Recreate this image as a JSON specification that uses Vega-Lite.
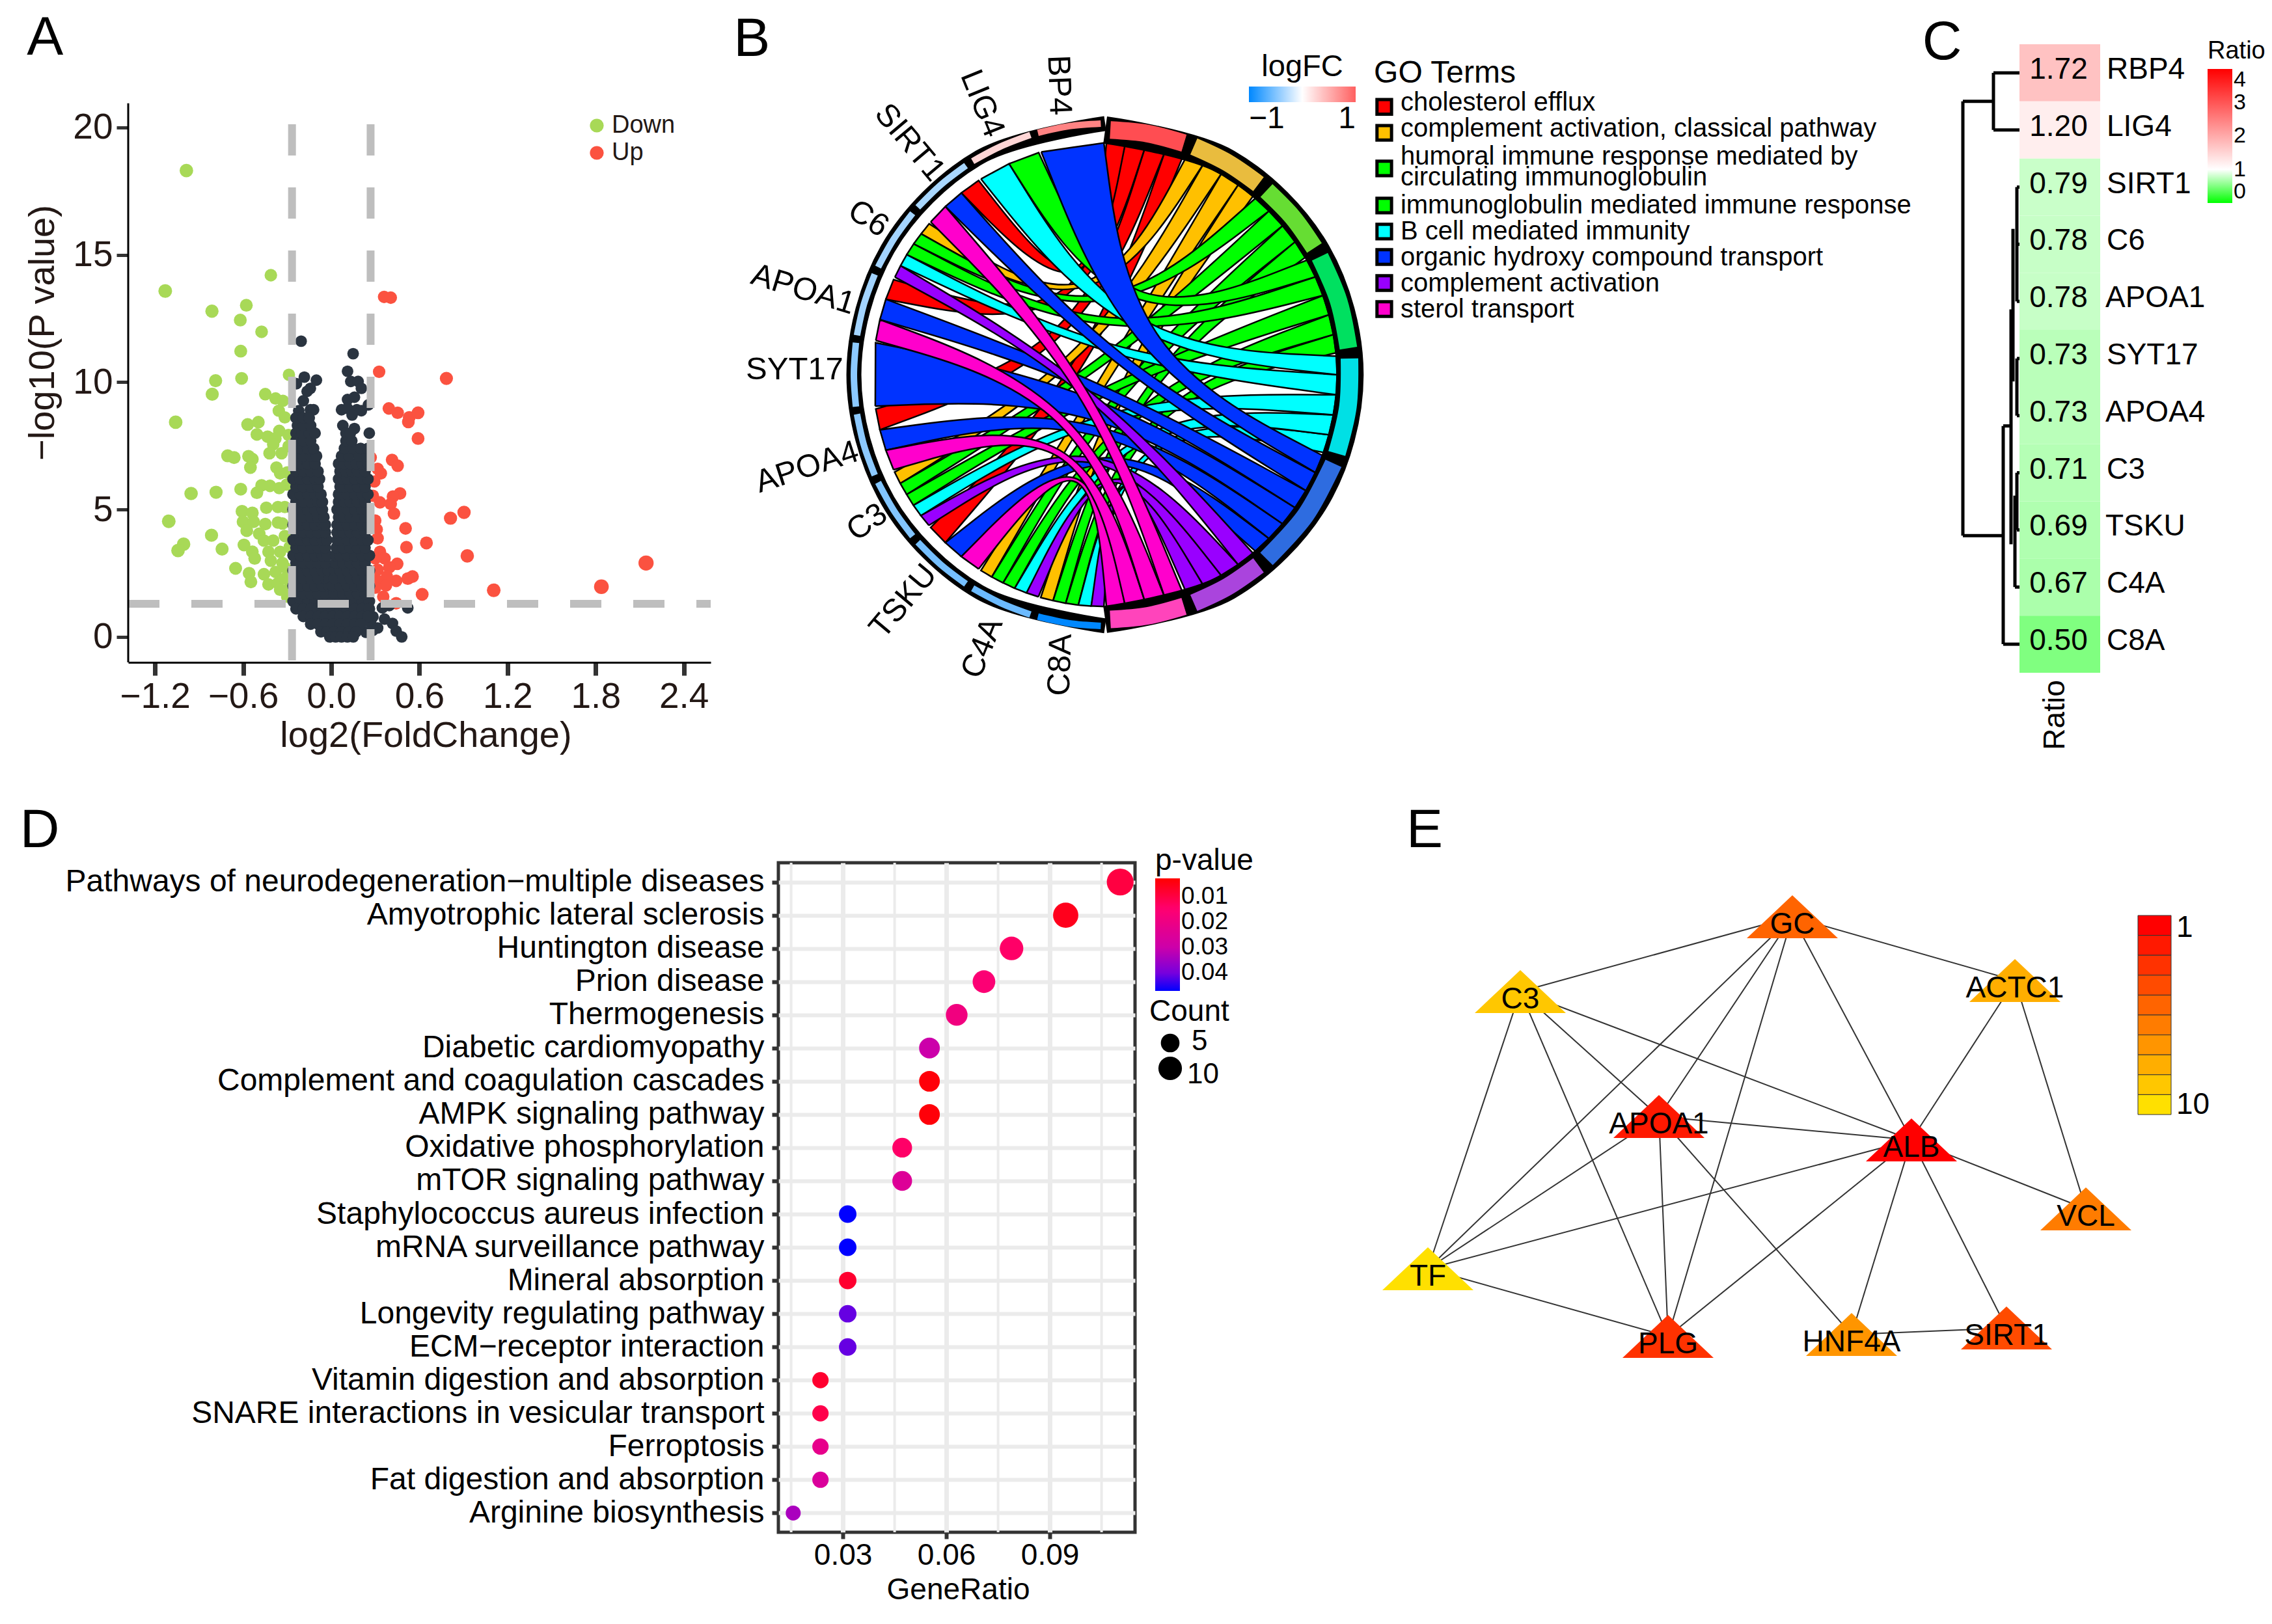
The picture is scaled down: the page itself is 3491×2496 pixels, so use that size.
{"$schema":"https://vega.github.io/schema/vega-lite/v6.json","padding":{"left":30,"top":16,"right":0,"bottom":0},"background":"white","align":{"row":"all","column":"none"},"bounds":"flush","columns":3,"spacing":{"row":229,"column":0},"config":{"view":{"stroke":null},"font":"Liberation Sans","text":{"font":"Liberation Sans"}},
"concat":[
{"width":895,"height":950,"layer":[
{"data":{"values":[{"x":-0.986,"y":18.31,"m":0.99,"g":"Down"},{"x":-0.411,"y":14.2,"m":0.41,"g":"Down"},{"x":-1.13,"y":13.58,"m":1.13,"g":"Down"},{"x":-0.812,"y":12.79,"m":0.81,"g":"Down"},{"x":-0.578,"y":13.02,"m":0.58,"g":"Down"},{"x":-0.619,"y":12.44,"m":0.62,"g":"Down"},{"x":-0.474,"y":11.98,"m":0.47,"g":"Down"},{"x":-0.616,"y":11.22,"m":0.62,"g":"Down"},{"x":-0.61,"y":10.15,"m":0.61,"g":"Down"},{"x":-0.787,"y":10.06,"m":0.79,"g":"Down"},{"x":-0.81,"y":9.53,"m":0.81,"g":"Down"},{"x":-0.288,"y":10.29,"m":0.29,"g":"Down"},{"x":-0.449,"y":9.53,"m":0.45,"g":"Down"},{"x":-0.379,"y":9.36,"m":0.38,"g":"Down"},{"x":-0.329,"y":9.27,"m":0.33,"g":"Down"},{"x":-0.357,"y":8.88,"m":0.36,"g":"Down"},{"x":-0.316,"y":8.62,"m":0.32,"g":"Down"},{"x":-1.059,"y":8.43,"m":1.06,"g":"Down"},{"x":-0.569,"y":8.34,"m":0.57,"g":"Down"},{"x":-0.496,"y":8.43,"m":0.5,"g":"Down"},{"x":-0.506,"y":7.95,"m":0.51,"g":"Down"},{"x":-0.354,"y":8.09,"m":0.35,"g":"Down"},{"x":-0.433,"y":7.86,"m":0.43,"g":"Down"},{"x":-0.291,"y":7.93,"m":0.29,"g":"Down"},{"x":-0.38,"y":7.79,"m":0.38,"g":"Down"},{"x":-0.395,"y":7.56,"m":0.4,"g":"Down"},{"x":-0.291,"y":7.48,"m":0.29,"g":"Down"},{"x":-0.705,"y":7.11,"m":0.71,"g":"Down"},{"x":-0.661,"y":7.04,"m":0.66,"g":"Down"},{"x":-0.563,"y":7.09,"m":0.56,"g":"Down"},{"x":-0.537,"y":6.98,"m":0.54,"g":"Down"},{"x":-0.55,"y":6.65,"m":0.55,"g":"Down"},{"x":-0.42,"y":7.21,"m":0.42,"g":"Down"},{"x":-0.338,"y":7.21,"m":0.34,"g":"Down"},{"x":-0.373,"y":6.65,"m":0.37,"g":"Down"},{"x":-0.348,"y":6.42,"m":0.35,"g":"Down"},{"x":-0.3,"y":6.46,"m":0.3,"g":"Down"},{"x":-0.474,"y":5.95,"m":0.47,"g":"Down"},{"x":-0.417,"y":5.93,"m":0.42,"g":"Down"},{"x":-0.303,"y":5.98,"m":0.3,"g":"Down"},{"x":-0.354,"y":5.84,"m":0.35,"g":"Down"},{"x":-0.506,"y":5.66,"m":0.51,"g":"Down"},{"x":-0.616,"y":5.8,"m":0.62,"g":"Down"},{"x":-0.784,"y":5.68,"m":0.78,"g":"Down"},{"x":-0.954,"y":5.63,"m":0.95,"g":"Down"},{"x":-1.106,"y":4.54,"m":1.11,"g":"Down"},{"x":-1.005,"y":3.64,"m":1.0,"g":"Down"},{"x":-1.043,"y":3.39,"m":1.04,"g":"Down"},{"x":-0.815,"y":3.99,"m":0.82,"g":"Down"},{"x":-0.743,"y":3.45,"m":0.74,"g":"Down"},{"x":-0.607,"y":4.93,"m":0.61,"g":"Down"},{"x":-0.537,"y":4.87,"m":0.54,"g":"Down"},{"x":-0.6,"y":4.52,"m":0.6,"g":"Down"},{"x":-0.528,"y":4.52,"m":0.53,"g":"Down"},{"x":-0.575,"y":4.17,"m":0.58,"g":"Down"},{"x":-0.442,"y":5.07,"m":0.44,"g":"Down"},{"x":-0.363,"y":5.1,"m":0.36,"g":"Down"},{"x":-0.316,"y":5.1,"m":0.32,"g":"Down"},{"x":-0.449,"y":4.43,"m":0.45,"g":"Down"},{"x":-0.363,"y":4.49,"m":0.36,"g":"Down"},{"x":-0.332,"y":4.45,"m":0.33,"g":"Down"},{"x":-0.49,"y":4.05,"m":0.49,"g":"Down"},{"x":-0.594,"y":3.61,"m":0.59,"g":"Down"},{"x":-0.458,"y":3.78,"m":0.46,"g":"Down"},{"x":-0.395,"y":3.78,"m":0.4,"g":"Down"},{"x":-0.316,"y":3.96,"m":0.32,"g":"Down"},{"x":-0.537,"y":3.34,"m":0.54,"g":"Down"},{"x":-0.427,"y":3.34,"m":0.43,"g":"Down"},{"x":-0.521,"y":3.08,"m":0.52,"g":"Down"},{"x":-0.411,"y":2.99,"m":0.41,"g":"Down"},{"x":-0.348,"y":3.34,"m":0.35,"g":"Down"},{"x":-0.284,"y":3.52,"m":0.28,"g":"Down"},{"x":-0.651,"y":2.69,"m":0.65,"g":"Down"},{"x":-0.559,"y":2.5,"m":0.56,"g":"Down"},{"x":-0.458,"y":2.46,"m":0.46,"g":"Down"},{"x":-0.379,"y":2.55,"m":0.38,"g":"Down"},{"x":-0.316,"y":2.73,"m":0.32,"g":"Down"},{"x":-0.547,"y":2.16,"m":0.55,"g":"Down"},{"x":-0.427,"y":2.06,"m":0.43,"g":"Down"},{"x":-0.363,"y":2.11,"m":0.36,"g":"Down"},{"x":-0.316,"y":2.29,"m":0.32,"g":"Down"},{"x":-0.284,"y":1.93,"m":0.28,"g":"Down"},{"x":-0.348,"y":1.85,"m":0.35,"g":"Down"},{"x":-0.3,"y":1.58,"m":0.3,"g":"Down"},{"x":-0.332,"y":2.9,"m":0.33,"g":"Down"},{"x":0.36,"y":13.35,"m":0.36,"g":"Up"},{"x":0.405,"y":13.32,"m":0.41,"g":"Up"},{"x":0.326,"y":10.41,"m":0.33,"g":"Up"},{"x":0.784,"y":10.15,"m":0.78,"g":"Up"},{"x":0.392,"y":8.97,"m":0.39,"g":"Up"},{"x":0.452,"y":8.8,"m":0.45,"g":"Up"},{"x":0.531,"y":8.62,"m":0.53,"g":"Up"},{"x":0.591,"y":8.8,"m":0.59,"g":"Up"},{"x":0.525,"y":8.44,"m":0.53,"g":"Up"},{"x":0.591,"y":7.79,"m":0.59,"g":"Up"},{"x":0.414,"y":6.95,"m":0.41,"g":"Up"},{"x":0.452,"y":6.72,"m":0.45,"g":"Up"},{"x":0.269,"y":7.04,"m":0.27,"g":"Up"},{"x":0.316,"y":6.6,"m":0.32,"g":"Up"},{"x":0.338,"y":6.42,"m":0.34,"g":"Up"},{"x":0.294,"y":6.1,"m":0.29,"g":"Up"},{"x":0.468,"y":5.63,"m":0.47,"g":"Up"},{"x":0.42,"y":5.51,"m":0.42,"g":"Up"},{"x":0.284,"y":5.54,"m":0.28,"g":"Up"},{"x":0.332,"y":5.28,"m":0.33,"g":"Up"},{"x":0.405,"y":5.22,"m":0.41,"g":"Up"},{"x":0.427,"y":4.84,"m":0.43,"g":"Up"},{"x":0.904,"y":4.89,"m":0.9,"g":"Up"},{"x":0.812,"y":4.66,"m":0.81,"g":"Up"},{"x":0.3,"y":4.57,"m":0.3,"g":"Up"},{"x":0.506,"y":4.26,"m":0.51,"g":"Up"},{"x":0.31,"y":4.22,"m":0.31,"g":"Up"},{"x":0.316,"y":3.87,"m":0.32,"g":"Up"},{"x":0.648,"y":3.69,"m":0.65,"g":"Up"},{"x":0.512,"y":3.52,"m":0.51,"g":"Up"},{"x":0.332,"y":3.34,"m":0.33,"g":"Up"},{"x":0.926,"y":3.18,"m":0.93,"g":"Up"},{"x":0.363,"y":3.08,"m":0.36,"g":"Up"},{"x":0.3,"y":3.08,"m":0.3,"g":"Up"},{"x":0.449,"y":2.87,"m":0.45,"g":"Up"},{"x":0.395,"y":2.73,"m":0.4,"g":"Up"},{"x":0.316,"y":2.64,"m":0.32,"g":"Up"},{"x":0.553,"y":2.37,"m":0.55,"g":"Up"},{"x":0.521,"y":2.29,"m":0.52,"g":"Up"},{"x":0.442,"y":2.2,"m":0.44,"g":"Up"},{"x":0.379,"y":2.37,"m":0.38,"g":"Up"},{"x":0.316,"y":2.2,"m":0.32,"g":"Up"},{"x":0.373,"y":2.02,"m":0.37,"g":"Up"},{"x":0.3,"y":1.93,"m":0.3,"g":"Up"},{"x":0.619,"y":1.67,"m":0.62,"g":"Up"},{"x":0.354,"y":1.58,"m":0.35,"g":"Up"},{"x":1.106,"y":1.83,"m":1.11,"g":"Up"},{"x":1.839,"y":1.97,"m":1.84,"g":"Up"},{"x":2.143,"y":2.9,"m":2.14,"g":"Up"},{"x":0.442,"y":1.32,"m":0.44,"g":"Up"},{"x":0.284,"y":2.55,"m":0.28,"g":"Up"}]},"mark":{"type":"point","filled":true,"opacity":1},"encoding":{"x":{"field":"x","type":"quantitative","scale":{"domain":[-1.382,2.583],"nice":false},"axis":{"values":[-1.2,-0.6,0,0.6,1.2,1.8,2.4],"format":".1f","title":"log2(FoldChange)","labelFontSize":55,"labelColor":"#231815","titleColor":"#231815","titleFontSize":56,"titleFontWeight":"normal","grid":false,"tickSize":20,"tickWidth":7,"tickColor":"#333333","domainColor":"#000000","domainWidth":3,"labelPadding":6,"titleX":457,"titleY":112,"titleBaseline":"middle","labelOverlap":false}},"y":{"field":"y","type":"quantitative","scale":{"domain":[-1,23.27],"nice":false},"axis":{"values":[0,5,10,15,20],"title":"−log10(P value)","labelFontSize":55,"labelColor":"#231815","titleColor":"#231815","titleFontSize":56,"titleFontWeight":"normal","grid":false,"domain":false,"tickSize":18,"tickWidth":5,"tickColor":"#333333","labelPadding":6,"titleX":-132,"titleY":443,"titleBaseline":"middle"}},"color":{"field":"g","type":"nominal","scale":{"domain":["Down","Up"],"range":["#A8D957","#FB5240"]},"legend":{"title":null,"orient":"none","legendX":701,"legendY":106,"labelFontSize":38,"symbolSize":450,"rowPadding":4,"labelColor":"#231815"}},"size":{"field":"m","type":"quantitative","scale":{"domain":[0.27,2.15],"range":[360,1700]},"legend":null}}},
{"data":{"values":[{"x":-0.205,"y":11.61},{"x":0.149,"y":11.12},{"x":0.111,"y":10.43},{"x":-0.183,"y":10.2},{"x":-0.101,"y":10.08},{"x":-0.142,"y":9.76},{"x":-0.164,"y":9.64},{"x":0.133,"y":10.03},{"x":0.183,"y":10.03},{"x":-0.237,"y":9.94},{"x":-0.19,"y":9.27},{"x":0.205,"y":9.76},{"x":0.111,"y":9.32},{"x":0.158,"y":9.41},{"x":0.253,"y":9.11},{"x":0.07,"y":8.92},{"x":0.111,"y":8.97},{"x":0.174,"y":8.92},{"x":0.205,"y":8.88},{"x":0.142,"y":8.71},{"x":0.079,"y":8.3},{"x":0.158,"y":8.18},{"x":0.259,"y":8.0},{"x":-0.142,"y":8.92},{"x":-0.221,"y":8.88},{"x":-0.12,"y":8.92},{"x":0.348,"y":1.14},{"x":0.284,"y":0.79},{"x":0.363,"y":0.7},{"x":0.417,"y":0.53},{"x":0.442,"y":0.23},{"x":0.48,"y":0.0},{"x":0.269,"y":0.53},{"x":0.316,"y":0.35},{"x":0.521,"y":1.14},{"x":0.284,"y":0.26},{"x":0.237,"y":0.18},{"x":0.395,"y":1.23},
{"x":-0.26,"y":1.4},{"x":-0.21,"y":1.4},{"x":-0.16,"y":1.4},{"x":-0.11,"y":1.4},{"x":-0.06,"y":1.4},{"x":-0.02,"y":1.4},{"x":-0.24,"y":1.7},{"x":-0.19,"y":1.7},{"x":-0.14,"y":1.7},{"x":-0.09,"y":1.7},{"x":-0.04,"y":1.7},{"x":-0.26,"y":2.0},{"x":-0.21,"y":2.0},{"x":-0.16,"y":2.0},{"x":-0.11,"y":2.0},{"x":-0.06,"y":2.0},{"x":-0.015,"y":2.0},{"x":-0.24,"y":2.3},{"x":-0.19,"y":2.3},{"x":-0.14,"y":2.3},{"x":-0.09,"y":2.3},{"x":-0.04,"y":2.3},{"x":-0.015,"y":2.3},{"x":-0.26,"y":2.6},{"x":-0.21,"y":2.6},{"x":-0.16,"y":2.6},{"x":-0.11,"y":2.6},{"x":-0.06,"y":2.6},{"x":-0.02,"y":2.6},{"x":-0.24,"y":2.9},{"x":-0.19,"y":2.9},{"x":-0.14,"y":2.9},{"x":-0.09,"y":2.9},{"x":-0.04,"y":2.9},{"x":-0.26,"y":3.2},{"x":-0.21,"y":3.2},{"x":-0.16,"y":3.2},{"x":-0.11,"y":3.2},{"x":-0.06,"y":3.2},{"x":-0.025,"y":3.2},{"x":-0.24,"y":3.5},{"x":-0.19,"y":3.5},{"x":-0.14,"y":3.5},{"x":-0.09,"y":3.5},{"x":-0.04,"y":3.5},{"x":-0.26,"y":3.8},{"x":-0.21,"y":3.8},{"x":-0.16,"y":3.8},{"x":-0.11,"y":3.8},{"x":-0.06,"y":3.8},{"x":-0.03,"y":3.8},{"x":-0.24,"y":4.1},{"x":-0.19,"y":4.1},{"x":-0.14,"y":4.1},{"x":-0.09,"y":4.1},{"x":-0.04,"y":4.1},{"x":-0.26,"y":4.4},{"x":-0.21,"y":4.4},{"x":-0.16,"y":4.4},{"x":-0.11,"y":4.4},{"x":-0.06,"y":4.4},{"x":-0.04,"y":4.4},{"x":-0.24,"y":4.7},{"x":-0.19,"y":4.7},{"x":-0.14,"y":4.7},{"x":-0.09,"y":4.7},{"x":-0.05,"y":4.7},{"x":-0.26,"y":5.0},{"x":-0.21,"y":5.0},{"x":-0.16,"y":5.0},{"x":-0.11,"y":5.0},{"x":-0.06,"y":5.0},{"x":-0.24,"y":5.3},{"x":-0.19,"y":5.3},{"x":-0.14,"y":5.3},{"x":-0.09,"y":5.3},{"x":-0.06,"y":5.3},{"x":-0.26,"y":5.6},{"x":-0.21,"y":5.6},{"x":-0.16,"y":5.6},{"x":-0.11,"y":5.6},{"x":-0.07,"y":5.6},{"x":-0.24,"y":5.9},{"x":-0.19,"y":5.9},{"x":-0.14,"y":5.9},{"x":-0.09,"y":5.9},{"x":-0.26,"y":6.2},{"x":-0.21,"y":6.2},{"x":-0.16,"y":6.2},{"x":-0.11,"y":6.2},{"x":-0.08,"y":6.2},{"x":-0.24,"y":6.5},{"x":-0.19,"y":6.5},{"x":-0.14,"y":6.5},{"x":-0.09,"y":6.5},{"x":-0.25,"y":6.8},{"x":-0.21,"y":6.8},{"x":-0.16,"y":6.8},{"x":-0.11,"y":6.8},{"x":-0.24,"y":7.1},{"x":-0.19,"y":7.1},{"x":-0.14,"y":7.1},{"x":-0.1,"y":7.1},{"x":-0.25,"y":7.4},{"x":-0.21,"y":7.4},{"x":-0.16,"y":7.4},{"x":-0.12,"y":7.4},{"x":-0.24,"y":7.7},{"x":-0.19,"y":7.7},{"x":-0.14,"y":7.7},{"x":-0.24,"y":8.0},{"x":-0.2,"y":8.0},{"x":-0.15,"y":8.0},{"x":-0.11,"y":8.0},{"x":-0.23,"y":8.3},{"x":-0.19,"y":8.3},{"x":-0.14,"y":8.3},{"x":-0.24,"y":8.6},{"x":-0.19,"y":8.6},{"x":-0.15,"y":8.6},
{"x":0.01,"y":1.4},{"x":0.06,"y":1.4},{"x":0.11,"y":1.4},{"x":0.16,"y":1.4},{"x":0.21,"y":1.4},{"x":0.26,"y":1.4},{"x":0.02,"y":1.7},{"x":0.08,"y":1.7},{"x":0.13,"y":1.7},{"x":0.18,"y":1.7},{"x":0.23,"y":1.7},{"x":0.01,"y":2.0},{"x":0.06,"y":2.0},{"x":0.11,"y":2.0},{"x":0.16,"y":2.0},{"x":0.21,"y":2.0},{"x":0.26,"y":2.0},{"x":0.02,"y":2.3},{"x":0.08,"y":2.3},{"x":0.13,"y":2.3},{"x":0.18,"y":2.3},{"x":0.23,"y":2.3},{"x":0.025,"y":2.6},{"x":0.06,"y":2.6},{"x":0.11,"y":2.6},{"x":0.16,"y":2.6},{"x":0.21,"y":2.6},{"x":0.26,"y":2.6},{"x":0.03,"y":2.9},{"x":0.08,"y":2.9},{"x":0.13,"y":2.9},{"x":0.18,"y":2.9},{"x":0.23,"y":2.9},{"x":0.03,"y":3.2},{"x":0.06,"y":3.2},{"x":0.11,"y":3.2},{"x":0.16,"y":3.2},{"x":0.21,"y":3.2},{"x":0.26,"y":3.2},{"x":0.035,"y":3.5},{"x":0.08,"y":3.5},{"x":0.13,"y":3.5},{"x":0.18,"y":3.5},{"x":0.23,"y":3.5},{"x":0.04,"y":3.8},{"x":0.06,"y":3.8},{"x":0.11,"y":3.8},{"x":0.16,"y":3.8},{"x":0.21,"y":3.8},{"x":0.25,"y":3.8},{"x":0.04,"y":4.1},{"x":0.08,"y":4.1},{"x":0.13,"y":4.1},{"x":0.18,"y":4.1},{"x":0.23,"y":4.1},{"x":0.04,"y":4.4},{"x":0.07,"y":4.4},{"x":0.11,"y":4.4},{"x":0.16,"y":4.4},{"x":0.21,"y":4.4},{"x":0.25,"y":4.4},{"x":0.05,"y":4.7},{"x":0.09,"y":4.7},{"x":0.13,"y":4.7},{"x":0.18,"y":4.7},{"x":0.23,"y":4.7},{"x":0.04,"y":5.0},{"x":0.07,"y":5.0},{"x":0.11,"y":5.0},{"x":0.16,"y":5.0},{"x":0.21,"y":5.0},{"x":0.24,"y":5.0},{"x":0.05,"y":5.3},{"x":0.09,"y":5.3},{"x":0.13,"y":5.3},{"x":0.18,"y":5.3},{"x":0.23,"y":5.3},{"x":0.05,"y":5.6},{"x":0.07,"y":5.6},{"x":0.11,"y":5.6},{"x":0.16,"y":5.6},{"x":0.21,"y":5.6},{"x":0.25,"y":5.6},{"x":0.06,"y":5.9},{"x":0.09,"y":5.9},{"x":0.13,"y":5.9},{"x":0.18,"y":5.9},{"x":0.23,"y":5.9},{"x":0.05,"y":6.2},{"x":0.08,"y":6.2},{"x":0.11,"y":6.2},{"x":0.16,"y":6.2},{"x":0.21,"y":6.2},{"x":0.25,"y":6.2},{"x":0.06,"y":6.5},{"x":0.1,"y":6.5},{"x":0.14,"y":6.5},{"x":0.18,"y":6.5},{"x":0.23,"y":6.5},{"x":0.05,"y":6.8},{"x":0.09,"y":6.8},{"x":0.13,"y":6.8},{"x":0.17,"y":6.8},{"x":0.21,"y":6.8},{"x":0.25,"y":6.8},{"x":0.07,"y":7.1},{"x":0.12,"y":7.1},{"x":0.19,"y":7.1},{"x":0.24,"y":7.1},{"x":0.09,"y":7.4},{"x":0.15,"y":7.4},{"x":0.2,"y":7.4},{"x":0.25,"y":7.4},{"x":0.1,"y":7.7},{"x":0.14,"y":7.7},{"x":0.1,"y":8.0},{"x":0.13,"y":8.0},
{"x":-0.24,"y":1.1},{"x":-0.19,"y":1.1},{"x":-0.14,"y":1.1},{"x":-0.09,"y":1.1},{"x":-0.04,"y":1.1},{"x":0.01,"y":1.1},{"x":0.06,"y":1.1},{"x":0.11,"y":1.1},{"x":0.16,"y":1.1},{"x":0.21,"y":1.1},{"x":0.26,"y":1.1},{"x":-0.19,"y":0.8},{"x":-0.14,"y":0.8},{"x":-0.09,"y":0.8},{"x":-0.04,"y":0.8},{"x":0.01,"y":0.8},{"x":0.06,"y":0.8},{"x":0.11,"y":0.8},{"x":0.16,"y":0.8},{"x":0.21,"y":0.8},{"x":0.25,"y":0.8},{"x":-0.14,"y":0.5},{"x":-0.09,"y":0.5},{"x":-0.04,"y":0.5},{"x":0.01,"y":0.5},{"x":0.06,"y":0.5},{"x":0.11,"y":0.5},{"x":0.16,"y":0.5},{"x":0.2,"y":0.5},{"x":-0.07,"y":0.2},{"x":-0.03,"y":0.2},{"x":0.02,"y":0.2},{"x":0.07,"y":0.2},{"x":0.12,"y":0.2},{"x":0.17,"y":0.2},{"x":-0.01,"y":0.0},{"x":0.03,"y":0.0},{"x":0.07,"y":0.0},{"x":0.11,"y":0.0},{"x":0.15,"y":0.0}]},"mark":{"type":"point","filled":true,"opacity":1,"color":"#2A3440","size":320},"encoding":{"x":{"field":"x","type":"quantitative"},"y":{"field":"y","type":"quantitative"}}},
{"data":{"values":[{"x":-0.267,"x2":-0.267,"y":20.13,"y2":-1},{"x":0.268,"x2":0.268,"y":20.13,"y2":-1},{"x":-1.382,"x2":2.583,"y":1.3,"y2":1.3}]},"mark":{"type":"rule","color":"#BEBEBE","strokeWidth":12,"strokeDash":[48,49]},"encoding":{"x":{"field":"x","type":"quantitative"},"x2":{"field":"x2"},"y":{"field":"y","type":"quantitative"},"y2":{"field":"y2"}}},
{"data":{"values":[{"x":-1.382,"y":-1,"y2":20.95}]},"mark":{"type":"rule","color":"#000000","strokeWidth":3},"encoding":{"x":{"field":"x","type":"quantitative"},"y":{"field":"y","type":"quantitative"},"y2":{"field":"y2"}}},
{"data":{"values":[{"x":-1.948,"y":23.5,"l":"A"}]},"mark":{"type":"text","fontSize":84,"color":"#000000"},"encoding":{"x":{"field":"x","type":"quantitative"},"y":{"field":"y","type":"quantitative"},"text":{"field":"l"}}}
]},
{"width":1755,"height":966,"layer":[
{"data":{"values":[
{"g":"C8A","t":"cla","x":-0.202,"y":-0.877},{"g":"C8A","t":"cla","x":-0.202,"y":-0.877},{"g":"C8A","t":"cla","x":-0.202,"y":-0.877},{"g":"C8A","t":"cla","x":0.047,"y":-0.023},{"g":"C8A","t":"cla","x":0.574,"y":0.693},{"g":"C8A","t":"cla","x":0.574,"y":0.693},{"g":"C8A","t":"cla","x":0.574,"y":0.693},{"g":"C8A","t":"cla","x":0.516,"y":0.737},{"g":"C8A","t":"cla","x":0.516,"y":0.737},{"g":"C8A","t":"cla","x":0.516,"y":0.737},{"g":"C8A","t":"cla","x":0.033,"y":-0.016},{"g":"C8A","t":"cla","x":-0.25,"y":-0.865},{"g":"C8A","t":"cla","x":-0.25,"y":-0.865},{"g":"C8A","t":"cla","x":-0.25,"y":-0.865},{"g":"C8A","t":"cla","x":-0.202,"y":-0.877},
{"g":"C8A","t":"hum","x":-0.153,"y":-0.887},{"g":"C8A","t":"hum","x":-0.153,"y":-0.887},{"g":"C8A","t":"hum","x":-0.153,"y":-0.887},{"g":"C8A","t":"hum","x":0.078,"y":-0.054},{"g":"C8A","t":"hum","x":0.776,"y":0.455},{"g":"C8A","t":"hum","x":0.776,"y":0.455},{"g":"C8A","t":"hum","x":0.776,"y":0.455},{"g":"C8A","t":"hum","x":0.737,"y":0.516},{"g":"C8A","t":"hum","x":0.737,"y":0.516},{"g":"C8A","t":"hum","x":0.737,"y":0.516},{"g":"C8A","t":"hum","x":0.067,"y":-0.045},{"g":"C8A","t":"hum","x":-0.202,"y":-0.877},{"g":"C8A","t":"hum","x":-0.202,"y":-0.877},{"g":"C8A","t":"hum","x":-0.202,"y":-0.877},{"g":"C8A","t":"hum","x":-0.153,"y":-0.887},
{"g":"C8A","t":"igm","x":-0.104,"y":-0.894},{"g":"C8A","t":"igm","x":-0.104,"y":-0.894},{"g":"C8A","t":"igm","x":-0.104,"y":-0.894},{"g":"C8A","t":"igm","x":0.099,"y":-0.101},{"g":"C8A","t":"igm","x":0.896,"y":0.085},{"g":"C8A","t":"igm","x":0.896,"y":0.085},{"g":"C8A","t":"igm","x":0.896,"y":0.085},{"g":"C8A","t":"igm","x":0.886,"y":0.156},{"g":"C8A","t":"igm","x":0.886,"y":0.156},{"g":"C8A","t":"igm","x":0.886,"y":0.156},{"g":"C8A","t":"igm","x":0.092,"y":-0.091},{"g":"C8A","t":"igm","x":-0.153,"y":-0.887},{"g":"C8A","t":"igm","x":-0.153,"y":-0.887},{"g":"C8A","t":"igm","x":-0.153,"y":-0.887},{"g":"C8A","t":"igm","x":-0.104,"y":-0.894},
{"g":"C8A","t":"bce","x":-0.054,"y":-0.898},{"g":"C8A","t":"bce","x":-0.054,"y":-0.898},{"g":"C8A","t":"bce","x":-0.054,"y":-0.898},{"g":"C8A","t":"bce","x":0.099,"y":-0.15},{"g":"C8A","t":"bce","x":0.848,"y":-0.302},{"g":"C8A","t":"bce","x":0.848,"y":-0.302},{"g":"C8A","t":"bce","x":0.848,"y":-0.302},{"g":"C8A","t":"bce","x":0.869,"y":-0.233},{"g":"C8A","t":"bce","x":0.869,"y":-0.233},{"g":"C8A","t":"bce","x":0.869,"y":-0.233},{"g":"C8A","t":"bce","x":0.096,"y":-0.141},{"g":"C8A","t":"bce","x":-0.104,"y":-0.894},{"g":"C8A","t":"bce","x":-0.104,"y":-0.894},{"g":"C8A","t":"bce","x":-0.104,"y":-0.894},{"g":"C8A","t":"bce","x":-0.054,"y":-0.898},
{"g":"C8A","t":"act","x":-0.005,"y":-0.9},{"g":"C8A","t":"act","x":-0.005,"y":-0.9},{"g":"C8A","t":"act","x":-0.005,"y":-0.9},{"g":"C8A","t":"act","x":0.039,"y":-0.218},{"g":"C8A","t":"act","x":0.314,"y":-0.844},{"g":"C8A","t":"act","x":0.314,"y":-0.844},{"g":"C8A","t":"act","x":0.314,"y":-0.844},{"g":"C8A","t":"act","x":0.38,"y":-0.816},{"g":"C8A","t":"act","x":0.38,"y":-0.816},{"g":"C8A","t":"act","x":0.38,"y":-0.816},{"g":"C8A","t":"act","x":0.041,"y":-0.214},{"g":"C8A","t":"act","x":-0.054,"y":-0.898},{"g":"C8A","t":"act","x":-0.054,"y":-0.898},{"g":"C8A","t":"act","x":-0.054,"y":-0.898},{"g":"C8A","t":"act","x":-0.005,"y":-0.9},
{"g":"C4A","t":"cla","x":-0.44,"y":-0.785},{"g":"C4A","t":"cla","x":-0.44,"y":-0.785},{"g":"C4A","t":"cla","x":-0.44,"y":-0.785},{"g":"C4A","t":"cla","x":0.01,"y":-0.006},{"g":"C4A","t":"cla","x":0.516,"y":0.737},{"g":"C4A","t":"cla","x":0.516,"y":0.737},{"g":"C4A","t":"cla","x":0.516,"y":0.737},{"g":"C4A","t":"cla","x":0.45,"y":0.779},{"g":"C4A","t":"cla","x":0.45,"y":0.779},{"g":"C4A","t":"cla","x":0.45,"y":0.779},{"g":"C4A","t":"cla","x":-0.004,"y":0.002},{"g":"C4A","t":"cla","x":-0.482,"y":-0.76},{"g":"C4A","t":"cla","x":-0.482,"y":-0.76},{"g":"C4A","t":"cla","x":-0.482,"y":-0.76},{"g":"C4A","t":"cla","x":-0.44,"y":-0.785},
{"g":"C4A","t":"hum","x":-0.396,"y":-0.808},{"g":"C4A","t":"hum","x":-0.396,"y":-0.808},{"g":"C4A","t":"hum","x":-0.396,"y":-0.808},{"g":"C4A","t":"hum","x":0.043,"y":-0.037},{"g":"C4A","t":"hum","x":0.737,"y":0.516},{"g":"C4A","t":"hum","x":0.737,"y":0.516},{"g":"C4A","t":"hum","x":0.737,"y":0.516},{"g":"C4A","t":"hum","x":0.689,"y":0.579},{"g":"C4A","t":"hum","x":0.689,"y":0.579},{"g":"C4A","t":"hum","x":0.689,"y":0.579},{"g":"C4A","t":"hum","x":0.031,"y":-0.026},{"g":"C4A","t":"hum","x":-0.44,"y":-0.785},{"g":"C4A","t":"hum","x":-0.44,"y":-0.785},{"g":"C4A","t":"hum","x":-0.44,"y":-0.785},{"g":"C4A","t":"hum","x":-0.396,"y":-0.808},
{"g":"C4A","t":"igm","x":-0.351,"y":-0.829},{"g":"C4A","t":"igm","x":-0.351,"y":-0.829},{"g":"C4A","t":"igm","x":-0.351,"y":-0.829},{"g":"C4A","t":"igm","x":0.067,"y":-0.084},{"g":"C4A","t":"igm","x":0.886,"y":0.156},{"g":"C4A","t":"igm","x":0.886,"y":0.156},{"g":"C4A","t":"igm","x":0.886,"y":0.156},{"g":"C4A","t":"igm","x":0.869,"y":0.233},{"g":"C4A","t":"igm","x":0.869,"y":0.233},{"g":"C4A","t":"igm","x":0.869,"y":0.233},{"g":"C4A","t":"igm","x":0.059,"y":-0.072},{"g":"C4A","t":"igm","x":-0.396,"y":-0.808},{"g":"C4A","t":"igm","x":-0.396,"y":-0.808},{"g":"C4A","t":"igm","x":-0.396,"y":-0.808},{"g":"C4A","t":"igm","x":-0.351,"y":-0.829},
{"g":"C4A","t":"bce","x":-0.305,"y":-0.847},{"g":"C4A","t":"bce","x":-0.305,"y":-0.847},{"g":"C4A","t":"bce","x":-0.305,"y":-0.847},{"g":"C4A","t":"bce","x":0.071,"y":-0.135},{"g":"C4A","t":"bce","x":0.869,"y":-0.233},{"g":"C4A","t":"bce","x":0.869,"y":-0.233},{"g":"C4A","t":"bce","x":0.869,"y":-0.233},{"g":"C4A","t":"bce","x":0.886,"y":-0.156},{"g":"C4A","t":"bce","x":0.886,"y":-0.156},{"g":"C4A","t":"bce","x":0.886,"y":-0.156},{"g":"C4A","t":"bce","x":0.067,"y":-0.123},{"g":"C4A","t":"bce","x":-0.351,"y":-0.829},{"g":"C4A","t":"bce","x":-0.351,"y":-0.829},{"g":"C4A","t":"bce","x":-0.351,"y":-0.829},{"g":"C4A","t":"bce","x":-0.305,"y":-0.847},
{"g":"C4A","t":"act","x":-0.259,"y":-0.862},{"g":"C4A","t":"act","x":-0.259,"y":-0.862},{"g":"C4A","t":"act","x":-0.259,"y":-0.862},{"g":"C4A","t":"act","x":0.015,"y":-0.21},{"g":"C4A","t":"act","x":0.38,"y":-0.816},{"g":"C4A","t":"act","x":0.38,"y":-0.816},{"g":"C4A","t":"act","x":0.38,"y":-0.816},{"g":"C4A","t":"act","x":0.45,"y":-0.779},{"g":"C4A","t":"act","x":0.45,"y":-0.779},{"g":"C4A","t":"act","x":0.45,"y":-0.779},{"g":"C4A","t":"act","x":0.018,"y":-0.203},{"g":"C4A","t":"act","x":-0.305,"y":-0.847},{"g":"C4A","t":"act","x":-0.305,"y":-0.847},{"g":"C4A","t":"act","x":-0.305,"y":-0.847},{"g":"C4A","t":"act","x":-0.259,"y":-0.862},
{"g":"TSKU","t":"eff","x":-0.62,"y":-0.652},{"g":"TSKU","t":"eff","x":-0.62,"y":-0.652},{"g":"TSKU","t":"eff","x":-0.62,"y":-0.652},{"g":"TSKU","t":"eff","x":-0.04,"y":0.025},{"g":"TSKU","t":"eff","x":0.302,"y":0.848},{"g":"TSKU","t":"eff","x":0.302,"y":0.848},{"g":"TSKU","t":"eff","x":0.302,"y":0.848},{"g":"TSKU","t":"eff","x":0.233,"y":0.869},{"g":"TSKU","t":"eff","x":0.233,"y":0.869},{"g":"TSKU","t":"eff","x":0.233,"y":0.869},{"g":"TSKU","t":"eff","x":-0.056,"y":0.035},{"g":"TSKU","t":"eff","x":-0.677,"y":-0.593},{"g":"TSKU","t":"eff","x":-0.677,"y":-0.593},{"g":"TSKU","t":"eff","x":-0.677,"y":-0.593},{"g":"TSKU","t":"eff","x":-0.62,"y":-0.652},
{"g":"TSKU","t":"hyd","x":-0.558,"y":-0.706},{"g":"TSKU","t":"hyd","x":-0.558,"y":-0.706},{"g":"TSKU","t":"hyd","x":-0.558,"y":-0.706},{"g":"TSKU","t":"hyd","x":0.003,"y":-0.174},{"g":"TSKU","t":"hyd","x":0.583,"y":-0.685},{"g":"TSKU","t":"hyd","x":0.583,"y":-0.685},{"g":"TSKU","t":"hyd","x":0.583,"y":-0.685},{"g":"TSKU","t":"hyd","x":0.636,"y":-0.636},{"g":"TSKU","t":"hyd","x":0.636,"y":-0.636},{"g":"TSKU","t":"hyd","x":0.636,"y":-0.636},{"g":"TSKU","t":"hyd","x":0.002,"y":-0.161},{"g":"TSKU","t":"hyd","x":-0.62,"y":-0.652},{"g":"TSKU","t":"hyd","x":-0.62,"y":-0.652},{"g":"TSKU","t":"hyd","x":-0.62,"y":-0.652},{"g":"TSKU","t":"hyd","x":-0.558,"y":-0.706},
{"g":"TSKU","t":"ste","x":-0.491,"y":-0.754},{"g":"TSKU","t":"ste","x":-0.491,"y":-0.754},{"g":"TSKU","t":"ste","x":-0.491,"y":-0.754},{"g":"TSKU","t":"ste","x":-0.061,"y":-0.207},{"g":"TSKU","t":"ste","x":0.005,"y":-0.9},{"g":"TSKU","t":"ste","x":0.005,"y":-0.9},{"g":"TSKU","t":"ste","x":0.005,"y":-0.9},{"g":"TSKU","t":"ste","x":0.078,"y":-0.897},{"g":"TSKU","t":"ste","x":0.078,"y":-0.897},{"g":"TSKU","t":"ste","x":0.078,"y":-0.897},{"g":"TSKU","t":"ste","x":-0.06,"y":-0.2},{"g":"TSKU","t":"ste","x":-0.558,"y":-0.706},{"g":"TSKU","t":"ste","x":-0.558,"y":-0.706},{"g":"TSKU","t":"ste","x":-0.558,"y":-0.706},{"g":"TSKU","t":"ste","x":-0.491,"y":-0.754},
{"g":"C3","t":"cla","x":-0.795,"y":-0.422},{"g":"C3","t":"cla","x":-0.795,"y":-0.422},{"g":"C3","t":"cla","x":-0.795,"y":-0.422},{"g":"C3","t":"cla","x":-0.043,"y":0.045},{"g":"C3","t":"cla","x":0.45,"y":0.779},{"g":"C3","t":"cla","x":0.45,"y":0.779},{"g":"C3","t":"cla","x":0.45,"y":0.779},{"g":"C3","t":"cla","x":0.38,"y":0.816},{"g":"C3","t":"cla","x":0.38,"y":0.816},{"g":"C3","t":"cla","x":0.38,"y":0.816},{"g":"C3","t":"cla","x":-0.055,"y":0.055},{"g":"C3","t":"cla","x":-0.817,"y":-0.378},{"g":"C3","t":"cla","x":-0.817,"y":-0.378},{"g":"C3","t":"cla","x":-0.817,"y":-0.378},{"g":"C3","t":"cla","x":-0.795,"y":-0.422},
{"g":"C3","t":"hum","x":-0.77,"y":-0.465},{"g":"C3","t":"hum","x":-0.77,"y":-0.465},{"g":"C3","t":"hum","x":-0.77,"y":-0.465},{"g":"C3","t":"hum","x":-0.01,"y":0.014},{"g":"C3","t":"hum","x":0.689,"y":0.579},{"g":"C3","t":"hum","x":0.689,"y":0.579},{"g":"C3","t":"hum","x":0.689,"y":0.579},{"g":"C3","t":"hum","x":0.636,"y":0.636},{"g":"C3","t":"hum","x":0.636,"y":0.636},{"g":"C3","t":"hum","x":0.636,"y":0.636},{"g":"C3","t":"hum","x":-0.02,"y":0.027},{"g":"C3","t":"hum","x":-0.795,"y":-0.422},{"g":"C3","t":"hum","x":-0.795,"y":-0.422},{"g":"C3","t":"hum","x":-0.795,"y":-0.422},{"g":"C3","t":"hum","x":-0.77,"y":-0.465},
{"g":"C3","t":"igm","x":-0.744,"y":-0.507},{"g":"C3","t":"igm","x":-0.744,"y":-0.507},{"g":"C3","t":"igm","x":-0.744,"y":-0.507},{"g":"C3","t":"igm","x":0.016,"y":-0.034},{"g":"C3","t":"igm","x":0.869,"y":0.233},{"g":"C3","t":"igm","x":0.869,"y":0.233},{"g":"C3","t":"igm","x":0.869,"y":0.233},{"g":"C3","t":"igm","x":0.846,"y":0.308},{"g":"C3","t":"igm","x":0.846,"y":0.308},{"g":"C3","t":"igm","x":0.846,"y":0.308},{"g":"C3","t":"igm","x":0.01,"y":-0.02},{"g":"C3","t":"igm","x":-0.77,"y":-0.465},{"g":"C3","t":"igm","x":-0.77,"y":-0.465},{"g":"C3","t":"igm","x":-0.77,"y":-0.465},{"g":"C3","t":"igm","x":-0.744,"y":-0.507},
{"g":"C3","t":"bce","x":-0.715,"y":-0.547},{"g":"C3","t":"bce","x":-0.715,"y":-0.547},{"g":"C3","t":"bce","x":-0.715,"y":-0.547},{"g":"C3","t":"bce","x":0.021,"y":-0.088},{"g":"C3","t":"bce","x":0.886,"y":-0.156},{"g":"C3","t":"bce","x":0.886,"y":-0.156},{"g":"C3","t":"bce","x":0.886,"y":-0.156},{"g":"C3","t":"bce","x":0.897,"y":-0.078},{"g":"C3","t":"bce","x":0.897,"y":-0.078},{"g":"C3","t":"bce","x":0.897,"y":-0.078},{"g":"C3","t":"bce","x":0.019,"y":-0.073},{"g":"C3","t":"bce","x":-0.744,"y":-0.507},{"g":"C3","t":"bce","x":-0.744,"y":-0.507},{"g":"C3","t":"bce","x":-0.744,"y":-0.507},{"g":"C3","t":"bce","x":-0.715,"y":-0.547},
{"g":"C3","t":"act","x":-0.684,"y":-0.585},{"g":"C3","t":"act","x":-0.684,"y":-0.585},{"g":"C3","t":"act","x":-0.684,"y":-0.585},{"g":"C3","t":"act","x":-0.029,"y":-0.171},{"g":"C3","t":"act","x":0.45,"y":-0.779},{"g":"C3","t":"act","x":0.45,"y":-0.779},{"g":"C3","t":"act","x":0.45,"y":-0.779},{"g":"C3","t":"act","x":0.516,"y":-0.737},{"g":"C3","t":"act","x":0.516,"y":-0.737},{"g":"C3","t":"act","x":0.516,"y":-0.737},{"g":"C3","t":"act","x":-0.025,"y":-0.161},{"g":"C3","t":"act","x":-0.715,"y":-0.547},{"g":"C3","t":"act","x":-0.715,"y":-0.547},{"g":"C3","t":"act","x":-0.715,"y":-0.547},{"g":"C3","t":"act","x":-0.684,"y":-0.585},
{"g":"APOA4","t":"eff","x":-0.874,"y":-0.214},{"g":"APOA4","t":"eff","x":-0.874,"y":-0.214},{"g":"APOA4","t":"eff","x":-0.874,"y":-0.214},{"g":"APOA4","t":"eff","x":-0.08,"y":0.082},{"g":"APOA4","t":"eff","x":0.233,"y":0.869},{"g":"APOA4","t":"eff","x":0.233,"y":0.869},{"g":"APOA4","t":"eff","x":0.233,"y":0.869},{"g":"APOA4","t":"eff","x":0.156,"y":0.886},{"g":"APOA4","t":"eff","x":0.156,"y":0.886},{"g":"APOA4","t":"eff","x":0.156,"y":0.886},{"g":"APOA4","t":"eff","x":-0.092,"y":0.094},{"g":"APOA4","t":"eff","x":-0.89,"y":-0.133},{"g":"APOA4","t":"eff","x":-0.89,"y":-0.133},{"g":"APOA4","t":"eff","x":-0.89,"y":-0.133},{"g":"APOA4","t":"eff","x":-0.874,"y":-0.214},
{"g":"APOA4","t":"hyd","x":-0.851,"y":-0.293},{"g":"APOA4","t":"hyd","x":-0.851,"y":-0.293},{"g":"APOA4","t":"hyd","x":-0.851,"y":-0.293},{"g":"APOA4","t":"hyd","x":-0.027,"y":-0.116},{"g":"APOA4","t":"hyd","x":0.636,"y":-0.636},{"g":"APOA4","t":"hyd","x":0.636,"y":-0.636},{"g":"APOA4","t":"hyd","x":0.636,"y":-0.636},{"g":"APOA4","t":"hyd","x":0.689,"y":-0.579},{"g":"APOA4","t":"hyd","x":0.689,"y":-0.579},{"g":"APOA4","t":"hyd","x":0.689,"y":-0.579},{"g":"APOA4","t":"hyd","x":-0.023,"y":-0.099},{"g":"APOA4","t":"hyd","x":-0.874,"y":-0.214},{"g":"APOA4","t":"hyd","x":-0.874,"y":-0.214},{"g":"APOA4","t":"hyd","x":-0.874,"y":-0.214},{"g":"APOA4","t":"hyd","x":-0.851,"y":-0.293},
{"g":"APOA4","t":"ste","x":-0.821,"y":-0.369},{"g":"APOA4","t":"ste","x":-0.821,"y":-0.369},{"g":"APOA4","t":"ste","x":-0.821,"y":-0.369},{"g":"APOA4","t":"ste","x":-0.093,"y":-0.158},{"g":"APOA4","t":"ste","x":0.078,"y":-0.897},{"g":"APOA4","t":"ste","x":0.078,"y":-0.897},{"g":"APOA4","t":"ste","x":0.078,"y":-0.897},{"g":"APOA4","t":"ste","x":0.156,"y":-0.886},{"g":"APOA4","t":"ste","x":0.156,"y":-0.886},{"g":"APOA4","t":"ste","x":0.156,"y":-0.886},{"g":"APOA4","t":"ste","x":-0.087,"y":-0.147},{"g":"APOA4","t":"ste","x":-0.851,"y":-0.293},{"g":"APOA4","t":"ste","x":-0.851,"y":-0.293},{"g":"APOA4","t":"ste","x":-0.851,"y":-0.293},{"g":"APOA4","t":"ste","x":-0.821,"y":-0.369},
{"g":"SYT17","t":"hyd","x":-0.892,"y":-0.122},{"g":"SYT17","t":"hyd","x":-0.892,"y":-0.122},{"g":"SYT17","t":"hyd","x":-0.892,"y":-0.122},{"g":"SYT17","t":"hyd","x":-0.025,"y":-0.088},{"g":"SYT17","t":"hyd","x":0.689,"y":-0.579},{"g":"SYT17","t":"hyd","x":0.689,"y":-0.579},{"g":"SYT17","t":"hyd","x":0.689,"y":-0.579},{"g":"SYT17","t":"hyd","x":0.737,"y":-0.516},{"g":"SYT17","t":"hyd","x":0.737,"y":-0.516},{"g":"SYT17","t":"hyd","x":0.737,"y":-0.516},{"g":"SYT17","t":"hyd","x":-0.019,"y":-0.049},{"g":"SYT17","t":"hyd","x":-0.891,"y":0.124},{"g":"SYT17","t":"hyd","x":-0.891,"y":0.124},{"g":"SYT17","t":"hyd","x":-0.891,"y":0.124},{"g":"SYT17","t":"hyd","x":-0.892,"y":-0.122},
{"g":"APOA1","t":"eff","x":-0.851,"y":0.293},{"g":"APOA1","t":"eff","x":-0.851,"y":0.293},{"g":"APOA1","t":"eff","x":-0.851,"y":0.293},{"g":"APOA1","t":"eff","x":-0.087,"y":0.147},{"g":"APOA1","t":"eff","x":0.156,"y":0.886},{"g":"APOA1","t":"eff","x":0.156,"y":0.886},{"g":"APOA1","t":"eff","x":0.156,"y":0.886},{"g":"APOA1","t":"eff","x":0.078,"y":0.897},{"g":"APOA1","t":"eff","x":0.078,"y":0.897},{"g":"APOA1","t":"eff","x":0.078,"y":0.897},{"g":"APOA1","t":"eff","x":-0.093,"y":0.158},{"g":"APOA1","t":"eff","x":-0.821,"y":0.369},{"g":"APOA1","t":"eff","x":-0.821,"y":0.369},{"g":"APOA1","t":"eff","x":-0.821,"y":0.369},{"g":"APOA1","t":"eff","x":-0.851,"y":0.293},
{"g":"APOA1","t":"hyd","x":-0.874,"y":0.214},{"g":"APOA1","t":"hyd","x":-0.874,"y":0.214},{"g":"APOA1","t":"hyd","x":-0.874,"y":0.214},{"g":"APOA1","t":"hyd","x":-0.017,"y":-0.038},{"g":"APOA1","t":"hyd","x":0.737,"y":-0.516},{"g":"APOA1","t":"hyd","x":0.737,"y":-0.516},{"g":"APOA1","t":"hyd","x":0.737,"y":-0.516},{"g":"APOA1","t":"hyd","x":0.779,"y":-0.45},{"g":"APOA1","t":"hyd","x":0.779,"y":-0.45},{"g":"APOA1","t":"hyd","x":0.779,"y":-0.45},{"g":"APOA1","t":"hyd","x":-0.009,"y":-0.02},{"g":"APOA1","t":"hyd","x":-0.851,"y":0.293},{"g":"APOA1","t":"hyd","x":-0.851,"y":0.293},{"g":"APOA1","t":"hyd","x":-0.851,"y":0.293},{"g":"APOA1","t":"hyd","x":-0.874,"y":0.214},
{"g":"APOA1","t":"ste","x":-0.89,"y":0.133},{"g":"APOA1","t":"ste","x":-0.89,"y":0.133},{"g":"APOA1","t":"ste","x":-0.89,"y":0.133},{"g":"APOA1","t":"ste","x":-0.092,"y":-0.094},{"g":"APOA1","t":"ste","x":0.156,"y":-0.886},{"g":"APOA1","t":"ste","x":0.156,"y":-0.886},{"g":"APOA1","t":"ste","x":0.156,"y":-0.886},{"g":"APOA1","t":"ste","x":0.233,"y":-0.869},{"g":"APOA1","t":"ste","x":0.233,"y":-0.869},{"g":"APOA1","t":"ste","x":0.233,"y":-0.869},{"g":"APOA1","t":"ste","x":-0.08,"y":-0.082},{"g":"APOA1","t":"ste","x":-0.874,"y":0.214},{"g":"APOA1","t":"ste","x":-0.874,"y":0.214},{"g":"APOA1","t":"ste","x":-0.874,"y":0.214},{"g":"APOA1","t":"ste","x":-0.89,"y":0.133},
{"g":"C6","t":"cla","x":-0.714,"y":0.547},{"g":"C6","t":"cla","x":-0.714,"y":0.547},{"g":"C6","t":"cla","x":-0.714,"y":0.547},{"g":"C6","t":"cla","x":-0.042,"y":0.17},{"g":"C6","t":"cla","x":0.38,"y":0.816},{"g":"C6","t":"cla","x":0.38,"y":0.816},{"g":"C6","t":"cla","x":0.38,"y":0.816},{"g":"C6","t":"cla","x":0.314,"y":0.844},{"g":"C6","t":"cla","x":0.314,"y":0.844},{"g":"C6","t":"cla","x":0.314,"y":0.844},{"g":"C6","t":"cla","x":-0.046,"y":0.179},{"g":"C6","t":"cla","x":-0.683,"y":0.586},{"g":"C6","t":"cla","x":-0.683,"y":0.586},{"g":"C6","t":"cla","x":-0.683,"y":0.586},{"g":"C6","t":"cla","x":-0.714,"y":0.547},
{"g":"C6","t":"hum","x":-0.743,"y":0.508},{"g":"C6","t":"hum","x":-0.743,"y":0.508},{"g":"C6","t":"hum","x":-0.743,"y":0.508},{"g":"C6","t":"hum","x":-0.013,"y":0.143},{"g":"C6","t":"hum","x":0.636,"y":0.636},{"g":"C6","t":"hum","x":0.636,"y":0.636},{"g":"C6","t":"hum","x":0.636,"y":0.636},{"g":"C6","t":"hum","x":0.583,"y":0.685},{"g":"C6","t":"hum","x":0.583,"y":0.685},{"g":"C6","t":"hum","x":0.583,"y":0.685},{"g":"C6","t":"hum","x":-0.016,"y":0.154},{"g":"C6","t":"hum","x":-0.714,"y":0.547},{"g":"C6","t":"hum","x":-0.714,"y":0.547},{"g":"C6","t":"hum","x":-0.714,"y":0.547},{"g":"C6","t":"hum","x":-0.743,"y":0.508},
{"g":"C6","t":"igm","x":-0.77,"y":0.466},{"g":"C6","t":"igm","x":-0.77,"y":0.466},{"g":"C6","t":"igm","x":-0.77,"y":0.466},{"g":"C6","t":"igm","x":0.01,"y":0.097},{"g":"C6","t":"igm","x":0.846,"y":0.308},{"g":"C6","t":"igm","x":0.846,"y":0.308},{"g":"C6","t":"igm","x":0.846,"y":0.308},{"g":"C6","t":"igm","x":0.816,"y":0.38},{"g":"C6","t":"igm","x":0.816,"y":0.38},{"g":"C6","t":"igm","x":0.816,"y":0.38},{"g":"C6","t":"igm","x":0.009,"y":0.111},{"g":"C6","t":"igm","x":-0.743,"y":0.508},{"g":"C6","t":"igm","x":-0.743,"y":0.508},{"g":"C6","t":"igm","x":-0.743,"y":0.508},{"g":"C6","t":"igm","x":-0.77,"y":0.466},
{"g":"C6","t":"bce","x":-0.794,"y":0.423},{"g":"C6","t":"bce","x":-0.794,"y":0.423},{"g":"C6","t":"bce","x":-0.794,"y":0.423},{"g":"C6","t":"bce","x":0.013,"y":0.043},{"g":"C6","t":"bce","x":0.897,"y":-0.078},{"g":"C6","t":"bce","x":0.897,"y":-0.078},{"g":"C6","t":"bce","x":0.897,"y":-0.078},{"g":"C6","t":"bce","x":0.9,"y":0},{"g":"C6","t":"bce","x":0.9,"y":0},{"g":"C6","t":"bce","x":0.9,"y":0},{"g":"C6","t":"bce","x":0.016,"y":0.058},{"g":"C6","t":"bce","x":-0.77,"y":0.466},{"g":"C6","t":"bce","x":-0.77,"y":0.466},{"g":"C6","t":"bce","x":-0.77,"y":0.466},{"g":"C6","t":"bce","x":-0.794,"y":0.423},
{"g":"C6","t":"act","x":-0.816,"y":0.379},{"g":"C6","t":"act","x":-0.816,"y":0.379},{"g":"C6","t":"act","x":-0.816,"y":0.379},{"g":"C6","t":"act","x":-0.038,"y":-0.045},{"g":"C6","t":"act","x":0.516,"y":-0.737},{"g":"C6","t":"act","x":0.516,"y":-0.737},{"g":"C6","t":"act","x":0.516,"y":-0.737},{"g":"C6","t":"act","x":0.574,"y":-0.693},{"g":"C6","t":"act","x":0.574,"y":-0.693},{"g":"C6","t":"act","x":0.574,"y":-0.693},{"g":"C6","t":"act","x":-0.028,"y":-0.034},{"g":"C6","t":"act","x":-0.794,"y":0.423},{"g":"C6","t":"act","x":-0.794,"y":0.423},{"g":"C6","t":"act","x":-0.794,"y":0.423},{"g":"C6","t":"act","x":-0.816,"y":0.379},
{"g":"SIRT1","t":"eff","x":-0.558,"y":0.706},{"g":"SIRT1","t":"eff","x":-0.558,"y":0.706},{"g":"SIRT1","t":"eff","x":-0.558,"y":0.706},{"g":"SIRT1","t":"eff","x":-0.06,"y":0.2},{"g":"SIRT1","t":"eff","x":0.078,"y":0.897},{"g":"SIRT1","t":"eff","x":0.078,"y":0.897},{"g":"SIRT1","t":"eff","x":0.078,"y":0.897},{"g":"SIRT1","t":"eff","x":0.005,"y":0.9},{"g":"SIRT1","t":"eff","x":0.005,"y":0.9},{"g":"SIRT1","t":"eff","x":0.005,"y":0.9},{"g":"SIRT1","t":"eff","x":-0.061,"y":0.207},{"g":"SIRT1","t":"eff","x":-0.491,"y":0.754},{"g":"SIRT1","t":"eff","x":-0.491,"y":0.754},{"g":"SIRT1","t":"eff","x":-0.491,"y":0.754},{"g":"SIRT1","t":"eff","x":-0.558,"y":0.706},
{"g":"SIRT1","t":"hyd","x":-0.62,"y":0.653},{"g":"SIRT1","t":"hyd","x":-0.62,"y":0.653},{"g":"SIRT1","t":"hyd","x":-0.62,"y":0.653},{"g":"SIRT1","t":"hyd","x":0.02,"y":0.025},{"g":"SIRT1","t":"hyd","x":0.779,"y":-0.45},{"g":"SIRT1","t":"hyd","x":0.779,"y":-0.45},{"g":"SIRT1","t":"hyd","x":0.779,"y":-0.45},{"g":"SIRT1","t":"hyd","x":0.816,"y":-0.38},{"g":"SIRT1","t":"hyd","x":0.816,"y":-0.38},{"g":"SIRT1","t":"hyd","x":0.816,"y":-0.38},{"g":"SIRT1","t":"hyd","x":0.032,"y":0.041},{"g":"SIRT1","t":"hyd","x":-0.558,"y":0.706},{"g":"SIRT1","t":"hyd","x":-0.558,"y":0.706},{"g":"SIRT1","t":"hyd","x":-0.558,"y":0.706},{"g":"SIRT1","t":"hyd","x":-0.62,"y":0.653},
{"g":"SIRT1","t":"ste","x":-0.677,"y":0.593},{"g":"SIRT1","t":"ste","x":-0.677,"y":0.593},{"g":"SIRT1","t":"ste","x":-0.677,"y":0.593},{"g":"SIRT1","t":"ste","x":-0.056,"y":-0.035},{"g":"SIRT1","t":"ste","x":0.233,"y":-0.869},{"g":"SIRT1","t":"ste","x":0.233,"y":-0.869},{"g":"SIRT1","t":"ste","x":0.233,"y":-0.869},{"g":"SIRT1","t":"ste","x":0.302,"y":-0.848},{"g":"SIRT1","t":"ste","x":0.302,"y":-0.848},{"g":"SIRT1","t":"ste","x":0.302,"y":-0.848},{"g":"SIRT1","t":"ste","x":-0.04,"y":-0.024},{"g":"SIRT1","t":"ste","x":-0.62,"y":0.653},{"g":"SIRT1","t":"ste","x":-0.62,"y":0.653},{"g":"SIRT1","t":"ste","x":-0.62,"y":0.653},{"g":"SIRT1","t":"ste","x":-0.677,"y":0.593},
{"g":"LIG4","t":"igm","x":-0.373,"y":0.819},{"g":"LIG4","t":"igm","x":-0.373,"y":0.819},{"g":"LIG4","t":"igm","x":-0.373,"y":0.819},{"g":"LIG4","t":"igm","x":0.055,"y":0.15},{"g":"LIG4","t":"igm","x":0.816,"y":0.38},{"g":"LIG4","t":"igm","x":0.816,"y":0.38},{"g":"LIG4","t":"igm","x":0.816,"y":0.38},{"g":"LIG4","t":"igm","x":0.783,"y":0.445},{"g":"LIG4","t":"igm","x":0.783,"y":0.445},{"g":"LIG4","t":"igm","x":0.783,"y":0.445},{"g":"LIG4","t":"igm","x":0.066,"y":0.163},{"g":"LIG4","t":"igm","x":-0.258,"y":0.862},{"g":"LIG4","t":"igm","x":-0.258,"y":0.862},{"g":"LIG4","t":"igm","x":-0.258,"y":0.862},{"g":"LIG4","t":"igm","x":-0.373,"y":0.819},
{"g":"LIG4","t":"bce","x":-0.482,"y":0.76},{"g":"LIG4","t":"bce","x":-0.482,"y":0.76},{"g":"LIG4","t":"bce","x":-0.482,"y":0.76},{"g":"LIG4","t":"bce","x":0.052,"y":0.095},{"g":"LIG4","t":"bce","x":0.9,"y":0},{"g":"LIG4","t":"bce","x":0.9,"y":0},{"g":"LIG4","t":"bce","x":0.9,"y":0},{"g":"LIG4","t":"bce","x":0.897,"y":0.072},{"g":"LIG4","t":"bce","x":0.897,"y":0.072},{"g":"LIG4","t":"bce","x":0.897,"y":0.072},{"g":"LIG4","t":"bce","x":0.066,"y":0.111},{"g":"LIG4","t":"bce","x":-0.373,"y":0.819},{"g":"LIG4","t":"bce","x":-0.373,"y":0.819},{"g":"LIG4","t":"bce","x":-0.373,"y":0.819},{"g":"LIG4","t":"bce","x":-0.482,"y":0.76},
{"g":"BP4","t":"hyd","x":-0.248,"y":0.865},{"g":"BP4","t":"hyd","x":-0.248,"y":0.865},{"g":"BP4","t":"hyd","x":-0.248,"y":0.865},{"g":"BP4","t":"hyd","x":0.071,"y":0.061},{"g":"BP4","t":"hyd","x":0.816,"y":-0.38},{"g":"BP4","t":"hyd","x":0.816,"y":-0.38},{"g":"BP4","t":"hyd","x":0.816,"y":-0.38},{"g":"BP4","t":"hyd","x":0.844,"y":-0.314},{"g":"BP4","t":"hyd","x":0.844,"y":-0.314},{"g":"BP4","t":"hyd","x":0.844,"y":-0.314},{"g":"BP4","t":"hyd","x":0.105,"y":0.073},{"g":"BP4","t":"hyd","x":-0.005,"y":0.9},{"g":"BP4","t":"hyd","x":-0.005,"y":0.9},{"g":"BP4","t":"hyd","x":-0.005,"y":0.9},{"g":"BP4","t":"hyd","x":-0.248,"y":0.865}
]},"mark":{"type":"line","interpolate":"basis","stroke":"#000000","strokeWidth":2.5,"filled":true,"opacity":1},"encoding":{"x":{"field":"x","type":"quantitative","scale":{"domain":[-1.268,3.164],"nice":false},"axis":null},"y":{"field":"y","type":"quantitative","scale":{"domain":[-1.157,1.283],"nice":false},"axis":null},"fill":{"field":"t","type":"nominal","scale":{"domain":["eff","cla","hum","igm","bce","hyd","act","ste"],"range":["#FF0000","#FFC000","#00FF00","#00FF00","#00FFFF","#0033FF","#9900FF","#FF00CC"]},"legend":null},"detail":[{"field":"g","type":"nominal"},{"field":"t","type":"nominal"}],"order":{"value":null}}},
{"data":{"values":[{"s":"t","x":0,"y":0.95},{"s":"t","x":0.475,"y":0.823},{"s":"t","x":0.823,"y":0.475},{"s":"t","x":0.95,"y":0},{"s":"t","x":0.823,"y":-0.475},{"s":"t","x":0.475,"y":-0.823},{"s":"t","x":0,"y":-0.95}]},"mark":{"type":"line","interpolate":"cardinal","color":"#000000","strokeWidth":42,"strokeCap":"butt"},"encoding":{"x":{"field":"x","type":"quantitative"},"y":{"field":"y","type":"quantitative"},"order":{"value":null}}},
{"data":{"values":[{"s":"g","x":0,"y":-0.975},{"s":"g","x":-0.488,"y":-0.844},{"s":"g","x":-0.844,"y":-0.488},{"s":"g","x":-0.975,"y":0},{"s":"g","x":-0.844,"y":0.488},{"s":"g","x":-0.488,"y":0.844},{"s":"g","x":0,"y":0.975}]},"mark":{"type":"line","interpolate":"cardinal","color":"#000000","strokeWidth":23,"strokeCap":"butt"},"encoding":{"x":{"field":"x","type":"quantitative"},"y":{"field":"y","type":"quantitative"},"order":{"value":null}}},
{"data":{"values":[{"t":"eff","x":0.02,"y":0.95},{"t":"eff","x":0.165,"y":0.936},{"t":"eff","x":0.306,"y":0.899},{"t":"cla","x":0.344,"y":0.886},{"t":"cla","x":0.475,"y":0.823},{"t":"cla","x":0.595,"y":0.74},{"t":"hum","x":0.626,"y":0.715},{"t":"hum","x":0.728,"y":0.611},{"t":"hum","x":0.812,"y":0.492},{"t":"igm","x":0.833,"y":0.458},{"t":"igm","x":0.906,"y":0.286},{"t":"igm","x":0.944,"y":0.103},{"t":"bce","x":0.948,"y":0.063},{"t":"bce","x":0.942,"y":-0.124},{"t":"bce","x":0.899,"y":-0.306},{"t":"hyd","x":0.886,"y":-0.344},{"t":"hyd","x":0.778,"y":-0.545},{"t":"hyd","x":0.626,"y":-0.715},{"t":"act","x":0.595,"y":-0.74},{"t":"act","x":0.475,"y":-0.823},{"t":"act","x":0.344,"y":-0.886},{"t":"ste","x":0.306,"y":-0.899},{"t":"ste","x":0.165,"y":-0.936},{"t":"ste","x":0.02,"y":-0.95}]},"mark":{"type":"line","interpolate":"cardinal","strokeWidth":27,"strokeCap":"butt"},"encoding":{"x":{"field":"x","type":"quantitative"},"y":{"field":"y","type":"quantitative"},"stroke":{"field":"t","type":"nominal","scale":{"domain":["eff","cla","hum","igm","bce","hyd","act","ste"],"range":["#FF4D52","#E9BC3E","#66DD33","#00E060","#00E0E5","#2E6CE0","#AA44DD","#FF44BB"]},"legend":null},"order":{"value":null}}},
{"data":{"values":[{"g":"C8A","f":-1,"x":-0.017,"y":-0.975},{"g":"C8A","f":-1,"x":-0.139,"y":-0.965},{"g":"C8A","f":-1,"x":-0.261,"y":-0.939},{"g":"C4A","f":-0.58,"x":-0.29,"y":-0.931},{"g":"C4A","f":-0.58,"x":-0.404,"y":-0.887},{"g":"C4A","f":-0.58,"x":-0.514,"y":-0.829},{"g":"TSKU","f":-0.54,"x":-0.54,"y":-0.812},{"g":"TSKU","f":-0.54,"x":-0.638,"y":-0.737},{"g":"TSKU","f":-0.54,"x":-0.727,"y":-0.65},{"g":"C3","f":-0.49,"x":-0.747,"y":-0.627},{"g":"C3","f":-0.49,"x":-0.82,"y":-0.527},{"g":"C3","f":-0.49,"x":-0.881,"y":-0.418},{"g":"APOA4","f":-0.45,"x":-0.894,"y":-0.39},{"g":"APOA4","f":-0.45,"x":-0.936,"y":-0.274},{"g":"APOA4","f":-0.45,"x":-0.963,"y":-0.153},{"g":"SYT17","f":-0.45,"x":-0.967,"y":-0.124},{"g":"SYT17","f":-0.45,"x":-0.975,"y":0},{"g":"SYT17","f":-0.45,"x":-0.967,"y":0.124},{"g":"APOA1","f":-0.36,"x":-0.963,"y":0.153},{"g":"APOA1","f":-0.36,"x":-0.936,"y":0.274},{"g":"APOA1","f":-0.36,"x":-0.894,"y":0.39},{"g":"C6","f":-0.36,"x":-0.881,"y":0.418},{"g":"C6","f":-0.36,"x":-0.82,"y":0.527},{"g":"C6","f":-0.36,"x":-0.747,"y":0.627},{"g":"SIRT1","f":-0.34,"x":-0.727,"y":0.65},{"g":"SIRT1","f":-0.34,"x":-0.638,"y":0.737},{"g":"SIRT1","f":-0.34,"x":-0.54,"y":0.812},{"g":"LIG4","f":0.26,"x":-0.514,"y":0.829},{"g":"LIG4","f":0.26,"x":-0.404,"y":0.887},{"g":"LIG4","f":0.26,"x":-0.29,"y":0.931},{"g":"BP4","f":0.78,"x":-0.261,"y":0.939},{"g":"BP4","f":0.78,"x":-0.139,"y":0.965},{"g":"BP4","f":0.78,"x":-0.017,"y":0.975}]},"mark":{"type":"line","interpolate":"cardinal","strokeWidth":10,"strokeCap":"butt"},"encoding":{"x":{"field":"x","type":"quantitative"},"y":{"field":"y","type":"quantitative"},"color":{"field":"f","type":"quantitative","scale":{"domain":[-1,0,1],"range":["#0088FF","#FFFFFF","#FF6060"],"interpolate":"rgb"},"legend":{"title":"logFC","orient":"none","direction":"horizontal","legendX":723,"legendY":12,"gradientLength":164,"gradientThickness":24,"values":[-1,1],"titleFontSize":47,"titleFontWeight":"normal","titleAnchor":"middle","titleColor":"#000000","labelFontSize":48,"labelColor":"#000000","titlePadding":6}},"detail":{"field":"g","type":"nominal"},"order":{"value":null}}},
{"data":{"values":[{"l":"BP4","x":-0.179,"y":1.124,"a":88},{"l":"LIG4","x":-0.477,"y":1.053,"a":68},{"l":"SIRT1","x":-0.758,"y":0.902,"a":50},{"l":"C6","x":-0.919,"y":0.606,"a":33},{"l":"APOA1","x":-1.172,"y":0.331,"a":17},{"l":"SYT17","x":-1.205,"y":0.02,"a":0},{"l":"APOA4","x":-1.157,"y":-0.359,"a":-18},{"l":"C3","x":-0.924,"y":-0.573,"a":-35},{"l":"TSKU","x":-0.783,"y":-0.879,"a":-50},{"l":"C4A","x":-0.477,"y":-1.061,"a":-68},{"l":"C8A","x":-0.174,"y":-1.126,"a":-88}]},"mark":{"type":"text","fontSize":49,"color":"#000000","align":"center","baseline":"middle"},"encoding":{"x":{"field":"x","type":"quantitative"},"y":{"field":"y","type":"quantitative"},"text":{"field":"l"},"angle":{"field":"a","type":"quantitative","scale":null}}},
{"data":{"values":[{"t":"eff","x":1.083,"y":1.04},{"t":"cla","x":1.083,"y":0.939},{"t":"hum","x":1.083,"y":0.801},{"t":"igm","x":1.083,"y":0.657},{"t":"bce","x":1.083,"y":0.556},{"t":"hyd","x":1.083,"y":0.457},{"t":"act","x":1.083,"y":0.356},{"t":"ste","x":1.083,"y":0.255}]},"mark":{"type":"point","shape":"square","filled":true,"opacity":1,"size":500,"stroke":"#000000","strokeWidth":5},"encoding":{"x":{"field":"x","type":"quantitative"},"y":{"field":"y","type":"quantitative"},"fill":{"field":"t","type":"nominal"}}},
{"data":{"values":[{"l":"cholesterol efflux","x":1.146,"y":1.056},{"l":"complement activation, classical pathway","x":1.146,"y":0.955},{"l":"humoral immune response mediated by","x":1.146,"y":0.846},{"l":"circulating immunoglobulin","x":1.146,"y":0.765},{"l":"immunoglobulin mediated immune response","x":1.146,"y":0.657},{"l":"B cell mediated immunity","x":1.146,"y":0.556},{"l":"organic hydroxy compound transport","x":1.146,"y":0.455},{"l":"complement activation","x":1.146,"y":0.354},{"l":"sterol transport","x":1.146,"y":0.253}]},"mark":{"type":"text","fontSize":40,"color":"#000000","align":"left","baseline":"middle"},"encoding":{"x":{"field":"x","type":"quantitative"},"y":{"field":"y","type":"quantitative"},"text":{"field":"l"}}},
{"data":{"values":[{"l":"GO Terms","x":1.043,"y":1.169}]},"mark":{"type":"text","fontSize":48,"color":"#000000","align":"left","baseline":"middle"},"encoding":{"x":{"field":"x","type":"quantitative"},"y":{"field":"y","type":"quantitative"},"text":{"field":"l"}}},
{"data":{"values":[{"l":"B","x":-1.371,"y":1.3}]},"mark":{"type":"text","fontSize":84,"color":"#000000"},"encoding":{"x":{"field":"x","type":"quantitative"},"y":{"field":"y","type":"quantitative"},"text":{"field":"l"}}}
]},
{"width":276,"height":966,"layer":[
{"data":{"values":[{"n":"RBP4","i":0,"j":1,"v":1.72,"s":"1.72"},{"n":"LIG4","i":1,"j":2,"v":1.2,"s":"1.20"},{"n":"SIRT1","i":2,"j":3,"v":0.79,"s":"0.79"},{"n":"C6","i":3,"j":4,"v":0.78,"s":"0.78"},{"n":"APOA1","i":4,"j":5,"v":0.78,"s":"0.78"},{"n":"SYT17","i":5,"j":6,"v":0.73,"s":"0.73"},{"n":"APOA4","i":6,"j":7,"v":0.73,"s":"0.73"},{"n":"C3","i":7,"j":8,"v":0.71,"s":"0.71"},{"n":"TSKU","i":8,"j":9,"v":0.69,"s":"0.69"},{"n":"C4A","i":9,"j":10,"v":0.67,"s":"0.67"},{"n":"C8A","i":10,"j":11,"v":0.5,"s":"0.50"}]},"mark":"rect","encoding":{"x":{"datum":0,"type":"quantitative","scale":{"domain":[-152,124],"nice":false},"axis":null},"x2":{"datum":124},"y":{"field":"i","type":"quantitative","scale":{"domain":[11,0],"nice":false},"axis":null},"y2":{"field":"j"},"color":{"field":"v","type":"quantitative","scale":{"domain":[0,1,4],"range":["#00FF00","#FFFFFF","#FF0000"],"interpolate":"rgb"},"legend":{"title":"Ratio","orient":"none","legendX":441,"legendY":-8,"gradientLength":206,"gradientThickness":38,"values":[0,1,2,3,4],"titleFontSize":38,"titleFontWeight":"normal","titleColor":"#000000","labelFontSize":34,"labelColor":"#000000","labelOverlap":false,"titlePadding":8}}}},
{"data":{"values":[{"x":-40,"x2":-40,"y":0.5,"y2":1.5},{"x":-40,"x2":0,"y":0.5,"y2":0.5},{"x":-40,"x2":0,"y":1.5,"y2":1.5},{"x":-87,"x2":-87,"y":1,"y2":8.6},{"x":-87,"x2":-40,"y":1,"y2":1},{"x":-87,"x2":-25,"y":8.6,"y2":8.6},{"x":-25,"x2":-25,"y":6.68,"y2":10.5},{"x":-25,"x2":0,"y":10.5,"y2":10.5},{"x":-25,"x2":-13,"y":6.68,"y2":6.68},{"x":-13,"x2":-13,"y":4.64,"y2":8.75},{"x":-10,"x2":-10,"y":3.23,"y2":5.9},{"x":-4,"x2":-4,"y":2.5,"y2":4.5},{"x":-4,"x2":-4,"y":5.5,"y2":6.5},{"x":-7,"x2":-7,"y":7.9,"y2":9.5},{"x":-4,"x2":-4,"y":7.5,"y2":8.5},{"x":-4,"x2":0,"y":2.5,"y2":2.5},{"x":-4,"x2":0,"y":3.5,"y2":3.5},{"x":-4,"x2":0,"y":4.5,"y2":4.5},{"x":-4,"x2":0,"y":5.5,"y2":5.5},{"x":-4,"x2":0,"y":6.5,"y2":6.5},{"x":-4,"x2":0,"y":7.5,"y2":7.5},{"x":-4,"x2":0,"y":8.5,"y2":8.5},{"x":-7,"x2":0,"y":9.5,"y2":9.5}]},"mark":{"type":"rule","color":"#000000","strokeWidth":5},"encoding":{"x":{"field":"x","type":"quantitative"},"x2":{"field":"x2"},"y":{"field":"y","type":"quantitative"},"y2":{"field":"y2"}}},
{"data":{"values":[{"s":"1.72","x":60,"y":0.5},{"s":"1.20","x":60,"y":1.5},{"s":"0.79","x":60,"y":2.5},{"s":"0.78","x":60,"y":3.5},{"s":"0.78","x":60,"y":4.5},{"s":"0.73","x":60,"y":5.5},{"s":"0.73","x":60,"y":6.5},{"s":"0.71","x":60,"y":7.5},{"s":"0.69","x":60,"y":8.5},{"s":"0.67","x":60,"y":9.5},{"s":"0.50","x":60,"y":10.5}]},"mark":{"type":"text","fontSize":46,"color":"#000000","align":"center","baseline":"middle","dy":-5},"encoding":{"x":{"field":"x","type":"quantitative"},"y":{"field":"y","type":"quantitative"},"text":{"field":"s"}}},
{"data":{"values":[{"s":"RBP4","x":134,"y":0.5},{"s":"LIG4","x":134,"y":1.5},{"s":"SIRT1","x":134,"y":2.5},{"s":"C6","x":134,"y":3.5},{"s":"APOA1","x":132,"y":4.5},{"s":"SYT17","x":134,"y":5.5},{"s":"APOA4","x":132,"y":6.5},{"s":"C3","x":134,"y":7.5},{"s":"TSKU","x":132,"y":8.5},{"s":"C4A","x":134,"y":9.5},{"s":"C8A","x":134,"y":10.5}]},"mark":{"type":"text","fontSize":46,"color":"#000000","align":"left","baseline":"middle","dy":-5},"encoding":{"x":{"field":"x","type":"quantitative"},"y":{"field":"y","type":"quantitative"},"text":{"field":"s"}}},
{"data":{"values":[{"s":"Ratio","x":55,"y":11.74,"a":270}]},"mark":{"type":"text","fontSize":46,"color":"#000000","align":"center","baseline":"middle"},"encoding":{"x":{"field":"x","type":"quantitative"},"y":{"field":"y","type":"quantitative"},"text":{"field":"s"},"angle":{"field":"a","type":"quantitative","scale":null}}},
{"data":{"values":[{"s":"C","x":-119,"y":-0.02}]},"mark":{"type":"text","fontSize":84,"color":"#000000"},"encoding":{"x":{"field":"x","type":"quantitative"},"y":{"field":"y","type":"quantitative"},"text":{"field":"s"}}}
]},
{"width":999,"height":1029,"data":{"values":[{"x":-136,"y":-49,"l":"D"}]},"mark":{"type":"text","fontSize":84,"color":"#000000"},"encoding":{"x":{"field":"x","type":"quantitative","scale":{"domain":[0,999],"nice":false},"axis":null},"y":{"field":"y","type":"quantitative","scale":{"domain":[1029,0],"nice":false},"axis":null},"text":{"field":"l"}}},
{"width":548,"height":1029,"view":{"stroke":"#333333","strokeWidth":5},"layer":[
{"data":{"values":[{"x":0.015},{"x":0.045},{"x":0.075},{"x":0.105}]},"mark":{"type":"rule","color":"#EBEBEB","strokeWidth":4},"encoding":{"x":{"field":"x","type":"quantitative","scale":{"domain":[0.0113,0.1147],"nice":false},"axis":{"values":[0.03,0.06,0.09],"format":".2f","title":"GeneRatio","labelFontSize":46,"labelColor":"#000000","titleFontSize":46,"titleFontWeight":"normal","titleColor":"#000000","grid":true,"gridColor":"#EBEBEB","gridWidth":7,"tickSize":10,"tickWidth":6,"tickColor":"#333333","domain":false,"labelPadding":3,"titleX":276,"titleY":88,"titleBaseline":"middle"}}}},
{"data":{"values":[{"n":"Pathways of neurodegeneration−multiple diseases","r":0.1104,"p":0.01,"c":14},{"n":"Amyotrophic lateral sclerosis","r":0.0946,"p":0.006,"c":12},{"n":"Huntington disease","r":0.0789,"p":0.014,"c":10},{"n":"Prion disease","r":0.0709,"p":0.016,"c":9},{"n":"Thermogenesis","r":0.063,"p":0.019,"c":8},{"n":"Diabetic cardiomyopathy","r":0.0551,"p":0.03,"c":7},{"n":"Complement and coagulation cascades","r":0.0551,"p":0.004,"c":7},{"n":"AMPK signaling pathway","r":0.0551,"p":0.004,"c":7},{"n":"Oxidative phosphorylation","r":0.0472,"p":0.014,"c":6},{"n":"mTOR signaling pathway","r":0.0472,"p":0.025,"c":6},{"n":"Staphylococcus aureus infection","r":0.0314,"p":0.047,"c":4},{"n":"mRNA surveillance pathway","r":0.0314,"p":0.047,"c":4},{"n":"Mineral absorption","r":0.0314,"p":0.008,"c":4},{"n":"Longevity regulating pathway","r":0.0314,"p":0.041,"c":4},{"n":"ECM−receptor interaction","r":0.0314,"p":0.041,"c":4},{"n":"Vitamin digestion and absorption","r":0.0235,"p":0.008,"c":3},{"n":"SNARE interactions in vesicular transport","r":0.0235,"p":0.011,"c":3},{"n":"Ferroptosis","r":0.0235,"p":0.022,"c":3},{"n":"Fat digestion and absorption","r":0.0235,"p":0.026,"c":3},{"n":"Arginine biosynthesis","r":0.0156,"p":0.034,"c":2}]},"mark":{"type":"point","filled":true,"opacity":1},"encoding":{"x":{"field":"r","type":"quantitative"},"y":{"field":"n","type":"nominal","sort":null,"scale":{"type":"point","padding":0.58},"axis":{"title":null,"labelFontSize":48,"labelColor":"#000000","labelLimit":1200,"grid":true,"gridColor":"#EBEBEB","gridWidth":6,"tickSize":10,"tickWidth":6,"tickColor":"#333333","domain":false,"labelPadding":12}},"color":{"field":"p","type":"quantitative","scale":{"domain":[0.047,0.04,0.03,0.015,0.003],"range":["#0000FF","#7700DD","#CC00AA","#FF0070","#FF0000"],"interpolate":"rgb"},"legend":{"title":"p-value","orient":"none","legendX":579,"legendY":-25,"values":[0.01,0.02,0.03,0.04],"gradientLength":173,"gradientThickness":38,"titleFontSize":46,"titleFontWeight":"normal","titleColor":"#000000","labelFontSize":37,"labelColor":"#000000","titlePadding":3,"format":".2f"}},"size":{"field":"c","type":"quantitative","scale":{"domain":[2,14],"range":[256,1089]},"legend":null}}}
]},
{"width":276,"height":1029,"layer":[
{"data":{"values":[{"x":1010,"y":83,"x2":592,"y2":198},{"x":1010,"y":83,"x2":1352,"y2":181},{"x":1010,"y":83,"x2":450,"y2":624},{"x":1010,"y":83,"x2":805,"y2":390},{"x":1010,"y":83,"x2":819,"y2":728},{"x":1010,"y":83,"x2":1193,"y2":426},{"x":592,"y":198,"x2":450,"y2":624},{"x":592,"y":198,"x2":819,"y2":728},{"x":592,"y":198,"x2":805,"y2":390},{"x":592,"y":198,"x2":1193,"y2":426},{"x":1352,"y":181,"x2":1193,"y2":426},{"x":1352,"y":181,"x2":1461,"y2":532},{"x":805,"y":390,"x2":1193,"y2":426},{"x":805,"y":390,"x2":450,"y2":624},{"x":805,"y":390,"x2":819,"y2":728},{"x":805,"y":390,"x2":1101,"y2":725},{"x":1193,"y":426,"x2":450,"y2":624},{"x":1193,"y":426,"x2":819,"y2":728},{"x":1193,"y":426,"x2":1101,"y2":725},{"x":1193,"y":426,"x2":1339,"y2":715},{"x":1193,"y":426,"x2":1461,"y2":532},{"x":450,"y":624,"x2":819,"y2":728},{"x":1101,"y":725,"x2":1339,"y2":715}]},"mark":{"type":"rule","color":"#333333","strokeWidth":2},"encoding":{"x":{"field":"x","type":"quantitative","scale":{"domain":[1207,1483],"nice":false},"axis":null},"x2":{"field":"x2"},"y":{"field":"y","type":"quantitative","scale":{"domain":[1029,0],"nice":false},"axis":null},"y2":{"field":"y2"}}},
{"data":{"values":[{"l":"GC","k":5,"x":1010,"y":83},{"l":"ACTC1","k":8,"x":1352,"y":181},{"l":"C3","k":9,"x":592,"y":198},{"l":"APOA1","k":2,"x":805,"y":390},{"l":"ALB","k":1,"x":1193,"y":426},{"l":"VCL","k":6,"x":1461,"y":532},{"l":"TF","k":10,"x":450,"y":624},{"l":"PLG","k":3,"x":819,"y":728},{"l":"HNF4A","k":7,"x":1101,"y":725},{"l":"SIRT1","k":4,"x":1339,"y":715}]},"mark":{"type":"point","filled":true,"opacity":1,"shape":"M-1,0.47L1,0.47L0,-0.47Z","size":19600},"encoding":{"x":{"field":"x","type":"quantitative"},"y":{"field":"y","type":"quantitative"},"color":{"field":"k","type":"quantitative","scale":{"domain":[1,10],"range":["#FF0000","#FFE000"],"interpolate":"rgb"},"legend":null}}},
{"data":{"values":[{"l":"GC","x":1010,"y":83},{"l":"ACTC1","x":1352,"y":181},{"l":"C3","x":592,"y":198},{"l":"APOA1","x":805,"y":390},{"l":"ALB","x":1193,"y":426},{"l":"VCL","x":1461,"y":532},{"l":"TF","x":450,"y":624},{"l":"PLG","x":819,"y":728},{"l":"HNF4A","x":1101,"y":725},{"l":"SIRT1","x":1339,"y":715}]},"mark":{"type":"text","fontSize":46,"color":"#000000","align":"center","baseline":"middle","dy":12},"encoding":{"x":{"field":"x","type":"quantitative"},"y":{"field":"y","type":"quantitative"},"text":{"field":"l"}}},
{"data":{"values":[{"k":1,"x":1541,"x2":1592,"y":81,"y2":111.6},{"k":2,"x":1541,"x2":1592,"y":111.6,"y2":142.2},{"k":3,"x":1541,"x2":1592,"y":142.2,"y2":172.8},{"k":4,"x":1541,"x2":1592,"y":172.8,"y2":203.4},{"k":5,"x":1541,"x2":1592,"y":203.4,"y2":234},{"k":6,"x":1541,"x2":1592,"y":234,"y2":264.6},{"k":7,"x":1541,"x2":1592,"y":264.6,"y2":295.2},{"k":8,"x":1541,"x2":1592,"y":295.2,"y2":325.8},{"k":9,"x":1541,"x2":1592,"y":325.8,"y2":356.4},{"k":10,"x":1541,"x2":1592,"y":356.4,"y2":387}]},"mark":{"type":"rect","stroke":"#333333","strokeWidth":1},"encoding":{"x":{"field":"x","type":"quantitative"},"x2":{"field":"x2"},"y":{"field":"y","type":"quantitative"},"y2":{"field":"y2"},"color":{"field":"k","type":"quantitative"}}},
{"data":{"values":[{"l":"1","x":1600,"y":100},{"l":"10","x":1600,"y":372}]},"mark":{"type":"text","fontSize":46,"color":"#000000","align":"left","baseline":"middle"},"encoding":{"x":{"field":"x","type":"quantitative"},"y":{"field":"y","type":"quantitative"},"text":{"field":"l"}}},
{"data":{"values":[{"c":5,"x":54,"y":277},{"c":10,"x":54,"y":316}]},"mark":{"type":"point","filled":true,"opacity":1,"color":"#000000"},"encoding":{"x":{"field":"x","type":"quantitative"},"y":{"field":"y","type":"quantitative"},"size":{"field":"c","type":"quantitative","scale":{"domain":[5,10],"range":[600,1000]},"legend":null}}},
{"data":{"values":[{"l":"5","x":87,"y":275},{"l":"10","x":80,"y":326}]},"mark":{"type":"text","fontSize":44,"color":"#000000","align":"left","baseline":"middle"},"encoding":{"x":{"field":"x","type":"quantitative"},"y":{"field":"y","type":"quantitative"},"text":{"field":"l"}}},
{"data":{"values":[{"l":"Count","x":22,"y":229}]},"mark":{"type":"text","fontSize":46,"color":"#000000","align":"left","baseline":"middle"},"encoding":{"x":{"field":"x","type":"quantitative"},"y":{"field":"y","type":"quantitative"},"text":{"field":"l"}}},
{"data":{"values":[{"l":"E","x":445,"y":-49}]},"mark":{"type":"text","fontSize":84,"color":"#000000"},"encoding":{"x":{"field":"x","type":"quantitative"},"y":{"field":"y","type":"quantitative"},"text":{"field":"l"}}}
]}
]}
